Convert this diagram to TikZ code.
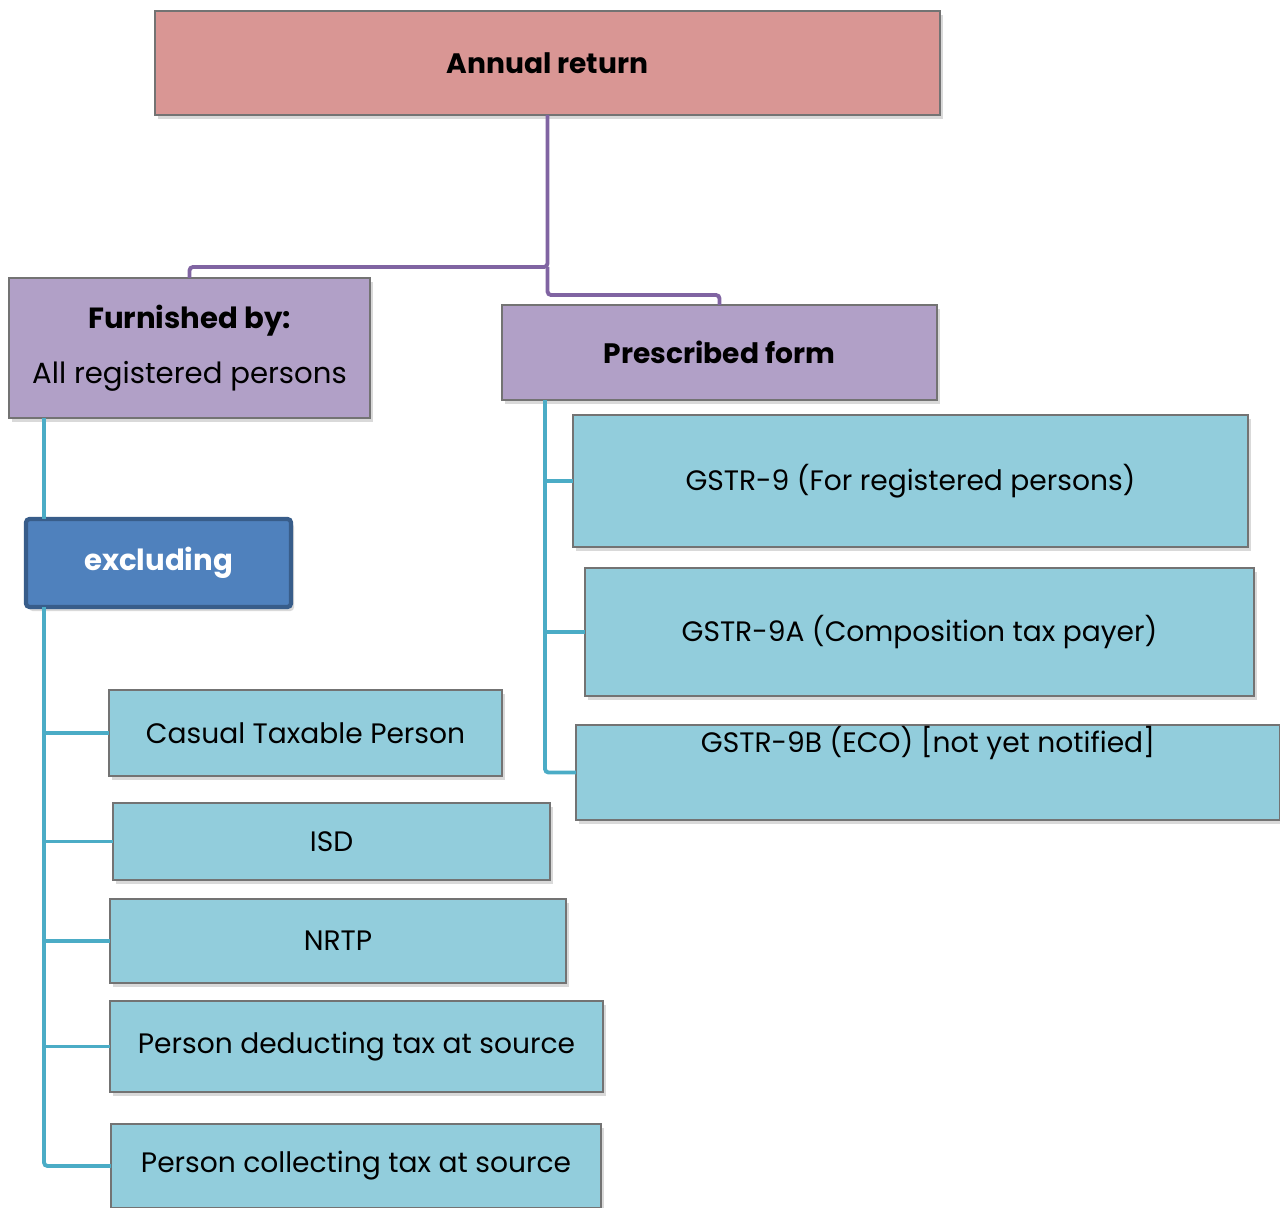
\documentclass[tikz,border=0pt]{standalone}
\usepackage{fontspec}
\setmainfont{Poppins}
\usetikzlibrary{positioning,shadows}
\definecolor{titlered}{HTML}{D99694}
\definecolor{headpurple}{HTML}{B1A0C7}
\definecolor{itemblue}{HTML}{92CDDC}
\definecolor{exclblue}{HTML}{4F81BD}
\definecolor{exclborder}{HTML}{385D8A}
\definecolor{linkpurple}{HTML}{8064A2}
\definecolor{linkteal}{HTML}{4BACC6}

\begin{document}
\begin{tikzpicture}[
    font=\fontsize{8}{9.6}\selectfont,
    box/.style={draw=black!55, line width=0.4pt, inner sep=0pt, outer sep=0pt, align=center,
      drop shadow={shadow xshift=0.03cm, shadow yshift=-0.04cm, opacity=0.3}},
    titlebox/.style={box, fill=titlered, font=\fontsize{8}{9.6}\selectfont\bfseries},
    headbox/.style={box, fill=headpurple},
    itembox/.style={box, fill=itemblue},
    exclbox/.style={box, fill=exclblue, draw=exclborder, line width=1.2pt, rounded corners=1pt,
      text=white, font=\fontsize{8.3}{10}\selectfont\bfseries},
    treeline/.style={draw=linkpurple, line width=1.1pt, rounded corners=1pt},
    link/.style={draw=linkteal, line width=1.1pt, rounded corners=1pt}]
\useasboundingbox (0,0) rectangle (12.8,-12.07);
\node[titlebox, minimum width=7.85cm, minimum height=1.04cm, anchor=north west] (annual) at (1.55,-0.11) {Annual return};
\node[headbox, minimum width=3.61cm, minimum height=1.40cm, anchor=north west, font=\fontsize{8.3}{10}\selectfont] (furnished) at (0.09,-2.78)
  {\textbf{Furnished by:}\\[0.2cm] All registered persons};
\node[headbox, minimum width=4.35cm, minimum height=0.95cm, below right=0.27cm and 1.32cm of furnished.north east,
  font=\fontsize{8}{9.6}\selectfont\bfseries] (prescribed) {Prescribed form};
\node[exclbox, minimum width=2.65cm, minimum height=0.88cm, below right=1.01cm and 0.17cm of furnished.south west] (excluding) {excluding};
\node[itembox, minimum width=3.93cm, minimum height=0.86cm, below right=0.83cm and 0.83cm of excluding.south west] (casual) {Casual Taxable Person};
\node[itembox, minimum width=4.37cm, minimum height=0.77cm, below right=0.27cm and 0.04cm of casual.south west] (isd) {ISD};
\node[itembox, minimum width=4.56cm, minimum height=0.84cm, below right=0.19cm and -0.03cm of isd.south west] (nrtp) {NRTP};
\node[itembox, minimum width=4.93cm, minimum height=0.91cm, below right=0.18cm and 0cm of nrtp.south west] (deduct) {Person deducting tax at source};
\node[itembox, minimum width=4.90cm, minimum height=0.84cm, below right=0.32cm and 0.01cm of deduct.south west] (collect) {Person collecting tax at source};
\node[itembox, minimum width=6.75cm, minimum height=1.32cm, below right=0.15cm and 0.71cm of prescribed.south west] (g9) {GSTR-9 (For registered persons)};
\node[itembox, minimum width=6.69cm, minimum height=1.28cm, below right=0.21cm and 0.12cm of g9.south west] (g9a) {GSTR-9A (Composition tax payer)};
\node[itembox, minimum width=7.04cm, text height=0.27cm, text depth=0.68cm, below right=0.29cm and -0.09cm of g9a.south west] (g9b)
  {GSTR-9B (ECO) [not yet notified]};
\coordinate (split) at ([yshift=-1.52cm]annual.south);
\draw[treeline] (annual.south) -- (split) -| (furnished.north);
\draw[treeline] (split) -- ++(0,-0.28) -| (prescribed.north);
\coordinate (lspine) at ([xshift=0.35cm]furnished.south west);
\draw[link] (lspine) -- (lspine |- excluding.north);
\draw[link] (lspine |- excluding.south) |- (collect.west);
\foreach \n in {casual,isd,nrtp,deduct}
  \draw[link] (lspine |- \n.west) -- (\n.west);
\coordinate (rspine) at ([xshift=0.43cm]prescribed.south west);
\draw[link] (rspine) |- (g9b.west);
\foreach \n in {g9,g9a}
  \draw[link] (rspine |- \n.west) -- (\n.west);
\end{tikzpicture}
\end{document}
